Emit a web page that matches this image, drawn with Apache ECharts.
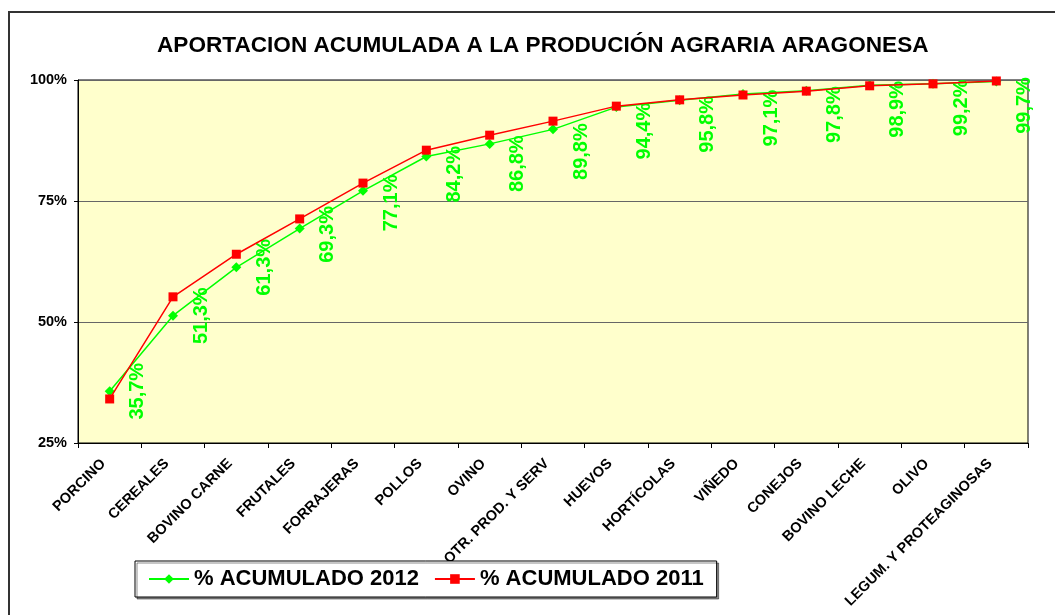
<!DOCTYPE html>
<html>
<head>
<meta charset="utf-8">
<title>Aportacion acumulada</title>
<script src="https://cdn.jsdelivr.net/npm/echarts@6/dist/echarts.min.js"></script>
<style>
  html, body { margin: 0; padding: 0; background: #fff; }
  #chart { width: 1055px; height: 615px; }
</style>
</head>
<body>
<div id="chart"></div>
<script>
// categorias (orden de aportacion)
const categories = [
  'PORCINO', 'CEREALES', 'BOVINO CARNE', 'FRUTALES', 'FORRAJERAS', 'POLLOS', 'OVINO',
  'OTR. PROD. Y SERV', 'HUEVOS', 'HORTÍCOLAS', 'VIÑEDO', 'CONEJOS', 'BOVINO LECHE',
  'OLIVO', 'LEGUM. Y PROTEAGINOSAS'
]

// % acumulado
const acum2012 = [35.7, 51.3, 61.3, 69.3, 77.1, 84.2, 86.8, 89.8, 94.4, 95.8, 97.1, 97.8, 98.9, 99.2, 99.7]
const acum2011 = [34.1, 55.2, 64.0, 71.3, 78.7, 85.5, 88.6, 91.5, 94.6, 95.9, 96.9, 97.7, 98.8, 99.2, 99.8]

const yTicks = [25, 50, 75, 100]

const font = 'Arial, "Liberation Sans", sans-serif'

const chart = echarts.init(document.getElementById('chart'))

const fmtPct = v => v.toFixed(1).replace('.', ',') + '%'

// labels near the top are pushed down a bit so they stay inside the plot
const labelDrop = v => Math.max(0, Math.min(24, (v - 62) * 0.8))

chart.setOption({
  animation: false,
  textStyle: { fontFamily: font },
  graphic: [{
    type: 'rect',
    silent: true,
    shape: { x: 9, y: 12, width: 1100, height: 700 },
    style: { fill: 'none', stroke: '#333', lineWidth: 2 }
  }],
  title: {
    text: 'APORTACION ACUMULADA A LA PRODUCIÓN AGRARIA ARAGONESA',
    left: 157,
    top: 34,
    padding: 0,
    textStyle: { fontFamily: font, fontSize: 22.6, fontWeight: 'bold', color: '#000' }
  },
  legend: {
    left: 135,
    top: 561,
    padding: [7, 13],
    itemWidth: 40,
    itemHeight: 12,
    itemGap: 15,
    borderColor: '#000',
    borderWidth: 1,
    backgroundColor: '#fff',
    shadowColor: 'rgba(0,0,0,0.45)',
    shadowOffsetX: 2,
    shadowOffsetY: 2,
    textStyle: { fontFamily: font, fontSize: 22, fontWeight: 'bold', color: '#000' },
    data: ['% ACUMULADO 2012', '% ACUMULADO 2011']
  },
  grid: {
    left: 78,
    right: 27,
    top: 80,
    bottom: 172,
    show: true,
    backgroundColor: '#FFFFCC',
    borderColor: '#000',
    borderWidth: 1
  },
  xAxis: {
    type: 'category',
    data: categories,
    boundaryGap: true,
    axisLine: { lineStyle: { color: '#000', width: 1 } },
    axisTick: { show: true, length: 5, lineStyle: { color: '#000' } },
    axisLabel: {
      rotate: 45,
      interval: 0,
      margin: 12,
      padding: [0, 9, 0, 0],
      color: '#000',
      fontFamily: font,
      fontSize: 14.5,
      fontWeight: 'bold'
    }
  },
  yAxis: {
    type: 'value',
    min: yTicks[0],
    max: yTicks[yTicks.length - 1],
    interval: 25,
    axisLine: { show: true, lineStyle: { color: '#000' } },
    axisTick: { show: true, length: 4, lineStyle: { color: '#000' } },
    splitLine: { show: true, lineStyle: { color: '#666', width: 1 } },
    axisLabel: {
      formatter: '{value}%',
      margin: 11,
      color: '#000',
      fontFamily: font,
      fontSize: 14.5,
      fontWeight: 'bold'
    }
  },
  series: [
    {
      name: '% ACUMULADO 2012',
      type: 'line',
      data: acum2012.map(v => ({ value: v, label: { offset: [-labelDrop(v), 0] } })),
      symbol: 'diamond',
      symbolSize: 10,
      itemStyle: { color: '#00FF00' },
      lineStyle: { color: '#00FF00', width: 1.5 },
      label: {
        show: true,
        position: 'right',
        distance: 23,
        rotate: 90,
        align: 'center',
        verticalAlign: 'middle',
        formatter: p => fmtPct(p.value),
        color: '#00FF00',
        fontFamily: font,
        fontSize: 20,
        fontWeight: 'bold'
      },
      z: 2
    },
    {
      name: '% ACUMULADO 2011',
      type: 'line',
      data: acum2011,
      symbol: 'rect',
      symbolSize: 9,
      itemStyle: { color: '#FF0000' },
      lineStyle: { color: '#FF0000', width: 1.5 },
      z: 3
    }
  ]
})
</script>
</body>
</html>
